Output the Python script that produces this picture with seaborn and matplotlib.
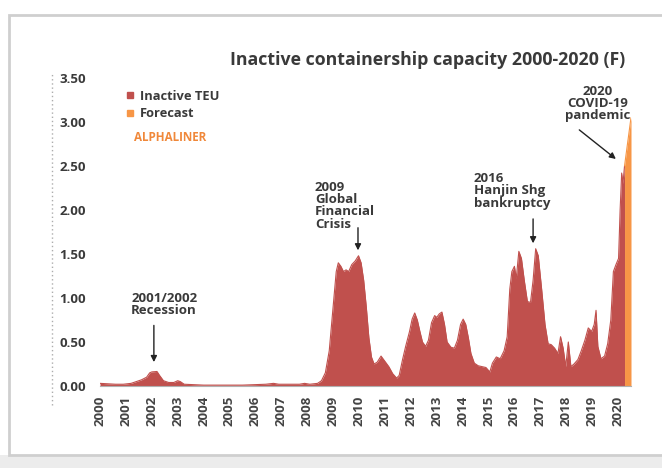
import numpy as np
import pandas as pd
import seaborn as sns
import matplotlib
matplotlib.use("Agg")
import matplotlib.pyplot as plt
from matplotlib.patches import Rectangle
from matplotlib.lines import Line2D

# Inactive containership capacity (million TEU), 2000 - early 2020
years_inactive = [
    2000.00, 2000.30, 2000.60, 2000.90, 2001.20, 2001.40, 2001.60, 2001.80, 2001.92, 2002.00,
    2002.20, 2002.30, 2002.45, 2002.65, 2002.85, 2003.00, 2003.10, 2003.25, 2003.60, 2004.00,
    2004.50, 2005.00, 2005.50, 2006.00, 2006.40, 2006.70, 2006.90, 2007.30, 2007.70, 2007.90,
    2008.10, 2008.40, 2008.55, 2008.70, 2008.85, 2009.00, 2009.12, 2009.20, 2009.30, 2009.40,
    2009.50, 2009.60, 2009.72, 2009.85, 2009.98, 2010.08, 2010.18, 2010.28, 2010.38, 2010.48,
    2010.58, 2010.70, 2010.85, 2010.95, 2011.05, 2011.15, 2011.30, 2011.45, 2011.55, 2011.68,
    2011.80, 2011.95, 2012.05, 2012.15, 2012.25, 2012.35, 2012.45, 2012.57, 2012.68, 2012.80,
    2012.92, 2013.00, 2013.10, 2013.20, 2013.30, 2013.40, 2013.55, 2013.68, 2013.80, 2013.92,
    2014.02, 2014.12, 2014.22, 2014.32, 2014.45, 2014.60, 2014.75, 2014.90, 2015.05, 2015.15,
    2015.30, 2015.45, 2015.60, 2015.72, 2015.82, 2015.90, 2016.00, 2016.07, 2016.17, 2016.27,
    2016.38, 2016.50, 2016.62, 2016.72, 2016.82, 2016.92, 2017.05, 2017.18, 2017.30, 2017.42,
    2017.55, 2017.68, 2017.78, 2017.88, 2017.98, 2018.08, 2018.18, 2018.30, 2018.45, 2018.58,
    2018.72, 2018.85, 2018.98, 2019.08, 2019.15, 2019.22, 2019.34, 2019.48, 2019.60, 2019.72,
    2019.82, 2019.92, 2020.02, 2020.08, 2020.14, 2020.19, 2020.25,
]
teu_inactive = [
    0.03, 0.025, 0.02, 0.02, 0.03, 0.05, 0.07, 0.10, 0.15, 0.16,
    0.165, 0.12, 0.06, 0.04, 0.04, 0.06, 0.05, 0.02, 0.015, 0.01,
    0.01, 0.01, 0.01, 0.015, 0.02, 0.03, 0.02, 0.02, 0.02, 0.03,
    0.02, 0.03, 0.06, 0.15, 0.40, 0.90, 1.30, 1.40, 1.36, 1.30,
    1.32, 1.30, 1.38, 1.42, 1.48, 1.40, 1.20, 0.90, 0.55, 0.33,
    0.25, 0.27, 0.34, 0.30, 0.26, 0.22, 0.14, 0.09, 0.12, 0.30,
    0.45, 0.62, 0.76, 0.83, 0.75, 0.62, 0.50, 0.45, 0.52, 0.72,
    0.80, 0.78, 0.82, 0.84, 0.70, 0.50, 0.44, 0.43, 0.52, 0.70,
    0.76, 0.70, 0.55, 0.37, 0.26, 0.23, 0.22, 0.21, 0.16, 0.26,
    0.33, 0.31, 0.40, 0.56, 1.10, 1.30, 1.36, 1.22, 1.53, 1.45,
    1.20, 0.96, 0.95, 1.20, 1.56, 1.48, 1.10, 0.70, 0.48, 0.47,
    0.43, 0.37, 0.56, 0.43, 0.22, 0.50, 0.22, 0.25, 0.30, 0.40,
    0.52, 0.66, 0.62, 0.70, 0.86, 0.45, 0.31, 0.34, 0.48, 0.75,
    1.30, 1.38, 1.45, 2.00, 2.42, 2.30, 2.50,
]

# Forecast for the rest of 2020
years_forecast = [2020.25, 2020.50]
teu_forecast = [2.50, 3.05]

year_ticks = list(range(2000, 2021))
y_ticks = [0.0, 0.5, 1.0, 1.5, 2.0, 2.5, 3.0, 3.5]

RED = "#c0504d"
ORANGE = "#f79646"
TEXT = "#3a3a3a"

sns.set_theme(style="white")
plt.rcParams["font.family"] = ["Open Sans", "DejaVu Sans"]

W, H = 662, 468
fig = plt.figure(figsize=(W / 100, H / 100), dpi=100)
fig.patch.set_facecolor("white")

def fx(px):
    return px / W

def fy(py):
    return 1 - py / H

# card outline and bottom strip, kept behind the axes
fig.patches.append(Rectangle((fx(0), fy(468)), 1, fy(455) - fy(468), transform=fig.transFigure,
                             facecolor="#ececec", edgecolor="none", zorder=-10))
fig.patches.append(Rectangle((fx(9), fy(455)), fx(680) - fx(9), fy(15) - fy(455),
                             transform=fig.transFigure, facecolor="white",
                             edgecolor="#cfcfcf", linewidth=2, zorder=-9))

ax = fig.add_axes([fx(100), fy(386), fx(631) - fx(100), fy(78) - fy(386)])
ax.set_facecolor("none")

df_in = pd.DataFrame({"year": years_inactive, "teu": teu_inactive})
df_fc = pd.DataFrame({"year": years_forecast, "teu": teu_forecast})

ax.fill_between(df_in["year"], 0, df_in["teu"], color=RED, linewidth=0, zorder=2)
sns.lineplot(data=df_in, x="year", y="teu", ax=ax, color=RED, linewidth=0.8, zorder=3)
ax.fill_between(df_fc["year"], 0, df_fc["teu"], color=ORANGE, linewidth=0, zorder=2)
sns.lineplot(data=df_fc, x="year", y="teu", ax=ax, color=ORANGE, linewidth=0.8, zorder=3)

ax.set_xlim(2000, 2020.5)
ax.set_ylim(0, 3.5)
ax.set_xlabel("")
ax.set_ylabel("")
ax.set_xticks(year_ticks)
ax.set_xticklabels([str(y) for y in year_ticks], rotation=90, fontsize=9.5,
                   fontweight="bold", color="#444444")
ax.set_yticks(y_ticks)
ax.set_yticklabels([f"{v:.2f}" for v in y_ticks], fontsize=9.5, fontweight="bold", color=TEXT)
ax.tick_params(axis="x", length=4, width=0.8, color="#9a9a9a", pad=3, direction="out")
ax.tick_params(axis="y", length=0, pad=10)
for side in ["top", "right", "left"]:
    ax.spines[side].set_visible(False)
ax.spines["bottom"].set_color("#b0b0b0")
ax.spines["bottom"].set_linewidth(0.8)
ax.grid(False)

# title
fig.text(fx(428), fy(60), "Inactive containership capacity 2000-2020 (F)", ha="center", va="center",
         fontsize=12.8, fontweight="bold", color=TEXT)

# legend
handles = [
    Line2D([], [], marker="s", linestyle="none", markersize=5, color=RED, label="Inactive TEU"),
    Line2D([], [], marker="s", linestyle="none", markersize=5, color=ORANGE, label="Forecast"),
]
leg = ax.legend(handles=handles, loc="upper left", bbox_to_anchor=(fx(125), fy(89.5)),
                bbox_transform=fig.transFigure, frameon=False, fontsize=9.3,
                handlelength=0.7, handletextpad=0.45, borderpad=0, borderaxespad=0,
                labelspacing=0.38)
for t in leg.get_texts():
    t.set_fontweight("bold")
    t.set_color(TEXT)

fig.text(fx(134), fy(137), "ALPHALINER", ha="left", va="center", fontsize=8.4,
         fontweight="bold", color="#f0883a")

# faint rotated axis caption strip
fig.add_artist(Line2D([fx(52), fx(52)], [fy(405), fy(72)], transform=fig.transFigure,
                      color="#8a8a8a", linewidth=1, linestyle=(0, (1, 2)), alpha=0.7))

# event annotations
note_kw = dict(fontsize=9.5, fontweight="bold", color=TEXT, linespacing=0.92)
arrow_kw = dict(arrowstyle="-|>", color="#222222", lw=1.0, mutation_scale=9)

ax.annotate("", xy=(2002.08, 0.24), xytext=(2002.08, 0.72), arrowprops=arrow_kw)
ax.text(2001.2, 1.07, "2001/2002\nRecession", ha="left", va="top", **note_kw)

ax.annotate("", xy=(2009.96, 1.51), xytext=(2009.96, 1.83), arrowprops=arrow_kw)
ax.text(2008.3, 2.33, "2009\nGlobal\nFinancial\nCrisis", ha="left", va="top", **note_kw)

ax.annotate("", xy=(2016.72, 1.59), xytext=(2016.72, 1.93), arrowprops=arrow_kw)
ax.text(2014.44, 2.43, "2016\nHanjin Shg\nbankruptcy", ha="left", va="top", **note_kw)

ax.annotate("", xy=(2020.0, 2.56), xytext=(2018.42, 2.93), arrowprops=arrow_kw)
ax.text(2019.23, 3.42, "2020\nCOVID-19\npandemic", ha="center", va="top", **note_kw)

fig.savefig("out.png", dpi=100)
